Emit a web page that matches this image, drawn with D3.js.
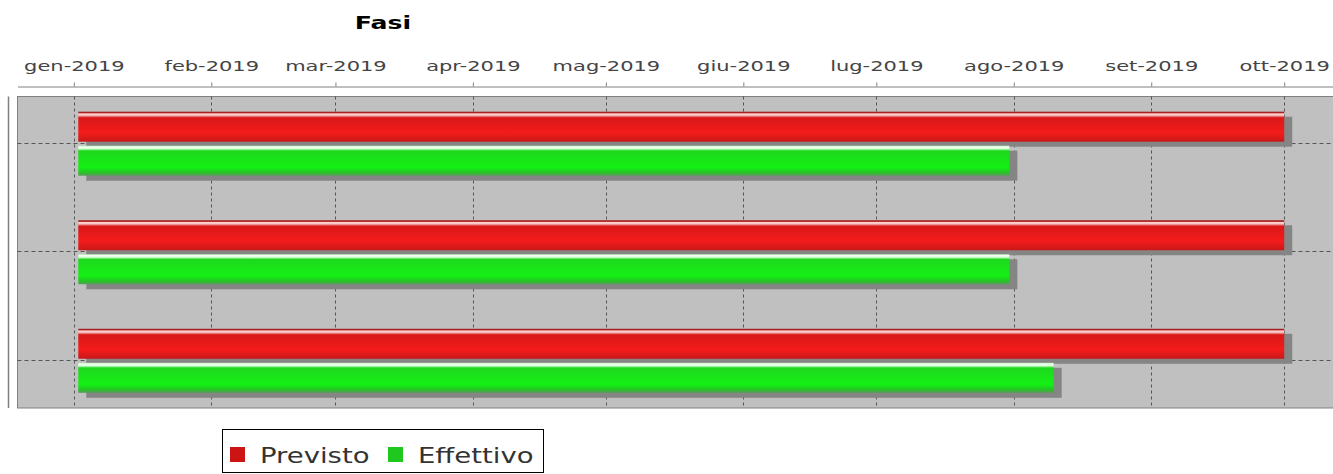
<!DOCTYPE html>
<html>
<head>
<meta charset="utf-8">
<script src="https://cdn.jsdelivr.net/npm/d3@7"></script>
<style>
  body { margin: 0; background: #fff; }
  text { font-family: "DejaVu Sans", sans-serif; }
</style>
</head>
<body>
<div id="chart"></div>
<script>
// dati del grafico
const categories = ["Fase 1", "Fase 2", "Fase 3"];
const seriesNames = ["Previsto", "Effettivo"];
const previstoStart = ["2019-01-02", "2019-01-02", "2019-01-02"];
const previstoEnd = ["2019-10-01", "2019-10-01", "2019-10-01"];
const effettivoStart = ["2019-01-02", "2019-01-02", "2019-01-02"];
const effettivoEnd = ["2019-07-31", "2019-07-31", "2019-08-10"];
const tickDates = ["2019-01-01", "2019-02-01", "2019-03-01", "2019-04-01", "2019-05-01",
  "2019-06-01", "2019-07-01", "2019-08-01", "2019-09-01", "2019-10-01"];
const tickLabels = ["gen-2019", "feb-2019", "mar-2019", "apr-2019", "mag-2019",
  "giu-2019", "lug-2019", "ago-2019", "set-2019", "ott-2019"];

const parse = d3.timeParse("%Y-%m-%d");
const W = 1333, H = 474;
const plot = { left: 17.5, top: 96.5, bottom: 408 };
const sx = 1.5; // testo allargato in orizzontale come nell'originale

const svg = d3.select("#chart").append("svg")
  .attr("width", W).attr("height", H);

// gradienti delle barre
const defs = svg.append("defs");
function gradient(id, stops) {
  const g = defs.append("linearGradient").attr("id", id)
    .attr("x1", 0).attr("y1", 0).attr("x2", 0).attr("y2", 1);
  stops.forEach(([o, c]) => g.append("stop").attr("offset", o).attr("stop-color", c));
}
gradient("gradRed", [[0, "#9a1c1c"], [0.04, "#b02020"], [0.07, "#ffd6d6"], [0.12, "#f8c0c0"],
  [0.2, "#d81818"], [0.7, "#f41c1c"], [1, "#c81818"]]);
gradient("gradGreen", [[0, "#b8f0b8"], [0.04, "#f2fff2"], [0.1, "#d8ffd8"], [0.17, "#1ed81e"],
  [0.72, "#14f014"], [0.88, "#22c822"], [1, "#5a9a5a"]]);

// scale
const x = d3.scaleTime()
  .domain([new Date(2018, 11, 19, 7), new Date(2019, 9, 12)])
  .range([plot.left, W]);

const y = d3.scaleBand()
  .domain(categories)
  .range([plot.top, plot.bottom])
  .paddingInner(0.41)
  .paddingOuter(0.14);

const ySub = d3.scaleBand()
  .domain(seriesNames)
  .range([0, y.bandwidth()])
  .paddingInner(0.118);

// titolo
svg.append("text")
  .attr("transform", `translate(383,29) scale(1.4,1)`)
  .attr("text-anchor", "middle")
  .style("font-size", "18px")
  .style("font-weight", "bold")
  .text("Fasi");

// sfondo area del grafico
svg.append("rect")
  .attr("x", plot.left).attr("y", plot.top)
  .attr("width", W + 10 - plot.left).attr("height", plot.bottom - plot.top)
  .style("fill", "#c0c0c0").style("stroke", "#808080");

// linea dell'asse delle categorie
svg.append("line")
  .attr("x1", 8.5).attr("x2", 8.5).attr("y1", plot.top).attr("y2", plot.bottom)
  .style("stroke", "#808080").style("stroke-width", 1.5);

// griglia verticale
svg.append("g")
  .selectAll("line")
  .data(tickDates.map(parse))
  .enter().append("line")
  .attr("x1", d => Math.round(x(d)) + 0.5).attr("x2", d => Math.round(x(d)) + 0.5)
  .attr("y1", plot.top).attr("y2", plot.bottom)
  .style("stroke", "#555").style("stroke-dasharray", "3,3");

// griglia orizzontale
svg.append("g")
  .selectAll("line")
  .data(categories)
  .enter().append("line")
  .attr("x1", plot.left).attr("x2", W)
  .attr("y1", d => Math.round(y(d) + y.bandwidth() / 2) - 0.5)
  .attr("y2", d => Math.round(y(d) + y.bandwidth() / 2) - 0.5)
  .style("stroke", "#555").style("stroke-dasharray", "4,3");

// asse superiore
const axis = svg.append("g")
  .attr("transform", "translate(0,86.5)")
  .call(d3.axisTop(x)
    .tickValues(tickDates.map(parse))
    .tickFormat((d, i) => tickLabels[i])
    .tickSize(4)
    .tickSizeOuter(0)
    .tickPadding(12));
axis.select(".domain").style("stroke", "#808080");
axis.selectAll(".tick line").style("stroke", "#808080");
axis.selectAll(".tick text")
  .attr("transform", `scale(${sx},1)`)
  .style("font-size", "14px")
  .style("font-family", "DejaVu Sans")
  .style("fill", "#444");

// barre
const series = [
  { name: "Previsto", start: previstoStart, end: previstoEnd, fill: "url(#gradRed)" },
  { name: "Effettivo", start: effettivoStart, end: effettivoEnd, fill: "url(#gradGreen)" }
];
const shadowDx = 8, shadowDy = 5;

series.forEach(s => {
  const rows = categories.map((c, i) => ({ c, start: parse(s.start[i]), end: parse(s.end[i]) }));
  const g = svg.append("g");
  g.selectAll(".shadow")
    .data(rows)
    .enter().append("rect")
    .attr("class", "shadow")
    .attr("x", d => x(d.start) + shadowDx)
    .attr("y", d => y(d.c) + ySub(s.name) + shadowDy)
    .attr("width", d => x(d.end) - x(d.start))
    .attr("height", ySub.bandwidth())
    .style("fill", "#858585");
  g.selectAll(".bar")
    .data(rows)
    .enter().append("rect")
    .attr("class", "bar")
    .attr("x", d => x(d.start))
    .attr("y", d => y(d.c) + ySub(s.name))
    .attr("width", d => x(d.end) - x(d.start))
    .attr("height", ySub.bandwidth())
    .style("fill", s.fill);
});

// legenda
const legend = svg.append("g");
legend.append("rect")
  .attr("x", 222.5).attr("y", 429.5).attr("width", 321).attr("height", 43)
  .style("fill", "#fff").style("stroke", "#000");
const legendColors = ["#cc1414", "#1ec81e"];
const legendX = [230, 388];
seriesNames.forEach((name, i) => {
  legend.append("rect")
    .attr("x", legendX[i]).attr("y", 447).attr("width", 15).attr("height", 15)
    .style("fill", legendColors[i]);
  legend.append("text")
    .attr("transform", `translate(${legendX[i] + 30},463) scale(1.25,1)`)
    .style("font-size", "22px")
    .style("fill", "#333")
    .text(name);
});
</script>
</body>
</html>
